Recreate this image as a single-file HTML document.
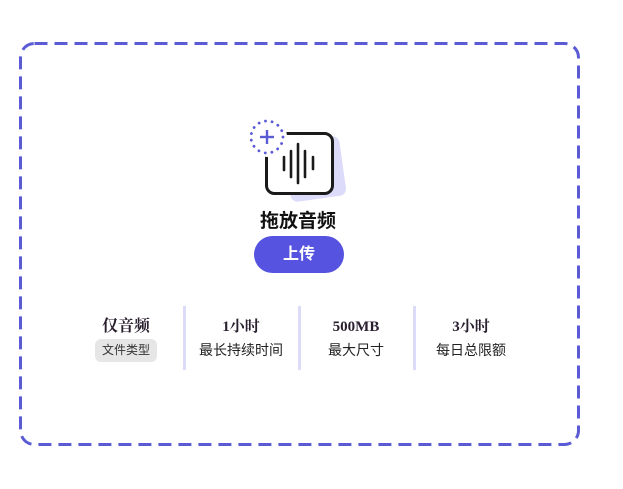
<!DOCTYPE html>
<html><head><meta charset="utf-8"><style>
body{margin:0;width:623px;height:489px;background:#fff;position:relative;font-family:"Liberation Sans","Noto Sans CJK SC",sans-serif;overflow:hidden}
.col{position:absolute;top:316px;width:114px;text-align:center}
.v{font-family:"Liberation Serif","Noto Serif CJK SC",serif;font-weight:bold;font-size:15px;color:#2a1f2f;height:22px;line-height:22px}
.l{font-size:14px;color:#222;line-height:22px;margin-top:1px}
.div{position:absolute;top:306px;width:3px;height:64px;background:#dcdcf8}
</style></head><body>
<svg width="623" height="489" style="position:absolute;left:0;top:0">
<rect x="20.5" y="43.5" width="558" height="401" rx="14" fill="none" stroke="#5b5bd6" stroke-width="3" stroke-dasharray="13,7"/>
<rect x="287" y="139" width="56" height="60" rx="7" fill="#dcdcfa" transform="rotate(-8 315 169)"/>
<rect x="266.5" y="133.5" width="66" height="60" rx="8" fill="#fff" stroke="#1a1a1a" stroke-width="3"/>
<g stroke="#1a1a1a" stroke-width="2.6" stroke-linecap="round">
<line x1="284" y1="157" x2="284" y2="170"/><line x1="291" y1="151" x2="291" y2="177"/><line x1="298" y1="144" x2="298" y2="183"/><line x1="305" y1="151" x2="305" y2="177"/><line x1="313" y1="157" x2="313" y2="169"/>
</g>
<circle cx="267" cy="137" r="20" fill="#fff"/>
<circle cx="267" cy="137" r="16" fill="none" stroke="#5b5bd6" stroke-width="2.8" stroke-dasharray="0.1,6.6" stroke-linecap="round"/>
<g stroke="#5b5bd6" stroke-width="2.4"><line x1="260" y1="137" x2="274" y2="137"/><line x1="267" y1="130" x2="267" y2="144"/></g>
</svg>
<div style="position:absolute;left:238px;top:206px;width:120px;text-align:center;font-size:19px;font-weight:bold;color:#111">拖放音频</div>
<div style="position:absolute;left:254px;top:236px;width:90px;height:37px;border-radius:19px;background:#5553e0;color:#fff;font-weight:bold;font-size:16px;text-align:center;line-height:37px">上传</div>
<div class="col" style="left:69px"><div class="v" style="font-size:16px">仅音频</div><div style="display:inline-block;background:#e6e6e6;border-radius:6px;font-size:12px;color:#333;padding:0 7px;line-height:23px;margin-top:1px">文件类型</div></div>
<div class="div" style="left:183px"></div>
<div class="col" style="left:184px"><div class="v">1小时</div><div class="l">最长持续时间</div></div>
<div class="div" style="left:298px"></div>
<div class="col" style="left:299px"><div class="v">500MB</div><div class="l">最大尺寸</div></div>
<div class="div" style="left:413px"></div>
<div class="col" style="left:414px"><div class="v">3小时</div><div class="l">每日总限额</div></div>
</body></html>
